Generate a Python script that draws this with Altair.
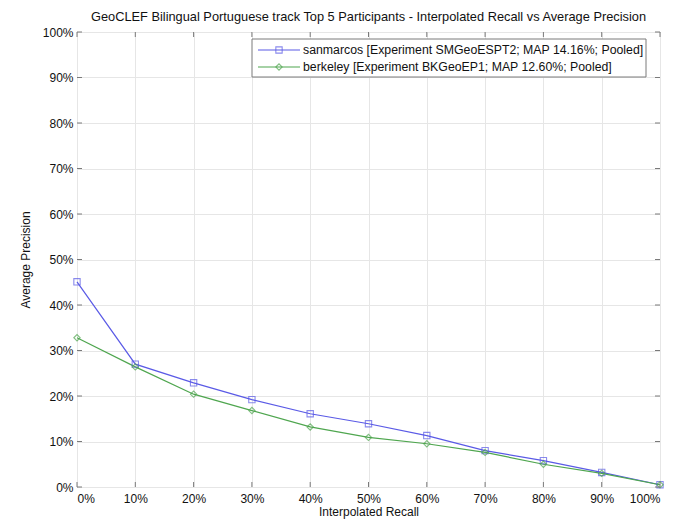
import altair as alt
import pandas as pd

# Interpolated recall levels (%) and average precision (%) per participant
recall = [0, 10, 20, 30, 40, 50, 60, 70, 80, 90, 100]
sanmarcos = [45.1, 27.0, 22.9, 19.2, 16.1, 13.9, 11.3, 8.0, 5.8, 3.2, 0.5]
berkeley = [32.8, 26.4, 20.4, 16.8, 13.2, 10.9, 9.5, 7.6, 5.0, 3.0, 0.5]

series_names = [
    "sanmarcos [Experiment SMGeoESPT2; MAP 14.16%; Pooled]",
    "berkeley [Experiment BKGeoEP1; MAP 12.60%; Pooled]",
]
series_colors = ["#5a5ae6", "#4fa64f"]
series_shapes = ["square", "diamond"]

tick_values = [0, 10, 20, 30, 40, 50, 60, 70, 80, 90, 100]

TITLE = ("GeoCLEF Bilingual Portuguese track Top 5 Participants - "
         "Interpolated Recall vs Average Precision")
FONT = "Liberation Sans"
FS = 12
W, H = 583, 455
TICK = 5

rows = []
for name, vals in zip(series_names, [sanmarcos, berkeley]):
    for r, p in zip(recall, vals):
        rows.append({"series": name, "recall": r, "precision": p})
df = pd.DataFrame(rows)
ticks = pd.DataFrame({"v": tick_values})

pct = "datum.value + '%'"
xs = alt.Scale(domain=[0, 100], nice=False, zero=False)
ys = alt.Scale(domain=[0, 100], nice=False, zero=False)
color = alt.Color("series:N", scale=alt.Scale(domain=series_names, range=series_colors), legend=None)
shape = alt.Shape("series:N", scale=alt.Scale(domain=series_names, range=series_shapes), legend=None)

x_enc = alt.X("recall:Q", scale=xs, title="Interpolated Recall",
              axis=alt.Axis(values=tick_values, labelExpr=pct, grid=True, ticks=False,
                            domain=False, labelPadding=6, titlePadding=2))
y_enc = alt.Y("precision:Q", scale=ys, title="Average Precision",
              axis=alt.Axis(values=tick_values, labelExpr=pct, grid=True, ticks=False,
                            domain=False, labelPadding=4, titlePadding=10))

lines = alt.Chart(df).mark_line(strokeWidth=1.2).encode(x=x_enc, y=y_enc, color=color)
points = alt.Chart(df).mark_point(filled=False, size=40, strokeWidth=1.1).encode(
    x="recall:Q", y="precision:Q", color=color, shape=shape)

# Inward tick marks on all four sides of the box
tick_style = dict(color="#7a7a7a", strokeWidth=1)
t_bottom = alt.Chart(ticks).mark_rule(**tick_style).encode(
    x=alt.X("v:Q", scale=xs), y=alt.value(H), y2=alt.value(H - TICK))
t_top = alt.Chart(ticks).mark_rule(**tick_style).encode(
    x=alt.X("v:Q", scale=xs), y=alt.value(0), y2=alt.value(TICK))
t_left = alt.Chart(ticks).mark_rule(**tick_style).encode(
    y=alt.Y("v:Q", scale=ys), x=alt.value(0), x2=alt.value(TICK))
t_right = alt.Chart(ticks).mark_rule(**tick_style).encode(
    y=alt.Y("v:Q", scale=ys), x=alt.value(W), x2=alt.value(W - TICK))

one = pd.DataFrame({"k": [0]})

# Chart title, centred over the plot box
title = alt.Chart(one).mark_text(
    text=TITLE, align="center", baseline="middle", font=FONT, fontSize=12.8, color="#111").encode(
    x=alt.value(W / 2), y=alt.value(-15))

# Boxed legend in the upper right corner
legend_layers = [
    alt.Chart(one).mark_rect(fill="white", stroke="#7a7a7a", strokeWidth=1).encode(
        x=alt.value(175), x2=alt.value(569), y=alt.value(7), y2=alt.value(45))
]
for i, (name, col, shp) in enumerate(zip(series_names, series_colors, series_shapes)):
    ly = 18 + 17 * i
    legend_layers.append(alt.Chart(one).mark_rule(color=col, strokeWidth=1.2).encode(
        x=alt.value(181), x2=alt.value(223), y=alt.value(ly)))
    legend_layers.append(alt.Chart(one).mark_point(
        filled=False, size=40, strokeWidth=1.1, color=col, shape=shp).encode(
        x=alt.value(202), y=alt.value(ly)))
    legend_layers.append(alt.Chart(one).mark_text(
        text=name, align="left", baseline="middle", font=FONT, fontSize=12.3, color="#111").encode(
        x=alt.value(226), y=alt.value(ly)))

chart = alt.layer(lines, points, t_bottom, t_top, t_left, t_right, title, *legend_layers).properties(
    width=W, height=H,
    autosize=alt.AutoSizeParams(type="none"),
    padding={"left": 77, "top": 32, "right": 26, "bottom": 35},
    background="white",
).configure_view(stroke="#7a7a7a", strokeWidth=1).configure_axis(
    labelFont=FONT, labelFontSize=FS, labelColor="#111",
    titleFont=FONT, titleFontSize=FS, titleFontWeight="normal", titleColor="#111",
    gridColor="#e6e6e6", gridWidth=1,
)

chart.save("out.html", embed_options={"renderer": "svg", "actions": False})
